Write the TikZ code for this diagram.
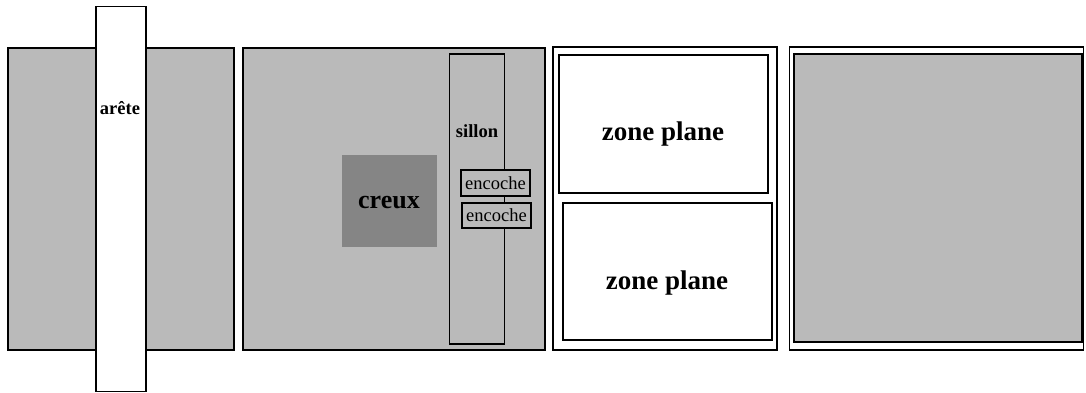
\documentclass[tikz,border=0pt]{standalone}
\usepackage{fontspec}
\setmainfont{Liberation Serif}
\begin{document}
\begin{tikzpicture}[x=1pt,y=-1pt,
  panel/.style={draw=black, line width=1.4pt, fill=black!27, inner sep=0pt, rectangle},
  whitebox/.style={draw=black, line width=1.2pt, fill=white, inner sep=0pt, rectangle},
  outline/.style={draw=black, line width=1.2pt, inner sep=0pt, rectangle},
  notch/.style={draw=black, line width=1.2pt, fill=black!27, inner sep=0pt, rectangle, font=\fontsize{18.5}{20}\selectfont},
  lbl/.style={font=\bfseries\fontsize{18.5}{20}\selectfont, inner sep=0pt},
  biglbl/.style={font=\bfseries\fontsize{27}{30}\selectfont, inner sep=0pt}]
\useasboundingbox (0,0) rectangle (1086,393);
\fill[white] (0,0) rectangle (1086,393);
% panel 1
\node[panel, minimum width=226pt, minimum height=302pt] (p1) at (121,199) {};
\node[whitebox, minimum width=50pt, minimum height=385pt] (arete) at (121,199) {};
\node[lbl] (aretelbl) at (120,108) {arête};
% panel 2
\node[panel, minimum width=302pt, minimum height=302pt] (p2) at (394,199) {};
\node[draw=none, fill=black!48, minimum width=95pt, minimum height=92pt, inner sep=0pt] (creux) at (389.5,201) {};
\node[biglbl, font=\bfseries\fontsize{26}{28}\selectfont] (creuxlbl) at (389,203) {creux};
\node[outline, minimum width=55pt, minimum height=290pt] (sillon) at (477,199) {};
\node[lbl] (sillonlbl) at (477,131) {sillon};
\node[notch, minimum width=69pt, minimum height=26pt] (enc1) at (495.5,183) {encoche};
\node[notch, minimum width=69pt, minimum height=25pt] (enc2) at (496.5,215.5) {encoche};
% panel 3
\node[whitebox, line width=1.4pt, minimum width=224pt, minimum height=303pt] (p3) at (665,198.5) {};
\node[whitebox, minimum width=209pt, minimum height=138pt] (z1) at (663.5,124) {};
\node[biglbl] (z1lbl) at (663,134) {zone plane};
\node[whitebox, minimum width=209pt, minimum height=137pt] (z2) at (667.5,271.5) {};
\node[biglbl] (z2lbl) at (667,283) {zone plane};
% panel 4
\node[whitebox, line width=1.4pt, minimum width=294pt, minimum height=303pt] (p4) at (936.5,198.5) {};
\node[panel, line width=2pt, minimum width=288pt, minimum height=288pt] (p4in) at (937.5,198) {};
\end{tikzpicture}
\end{document}
